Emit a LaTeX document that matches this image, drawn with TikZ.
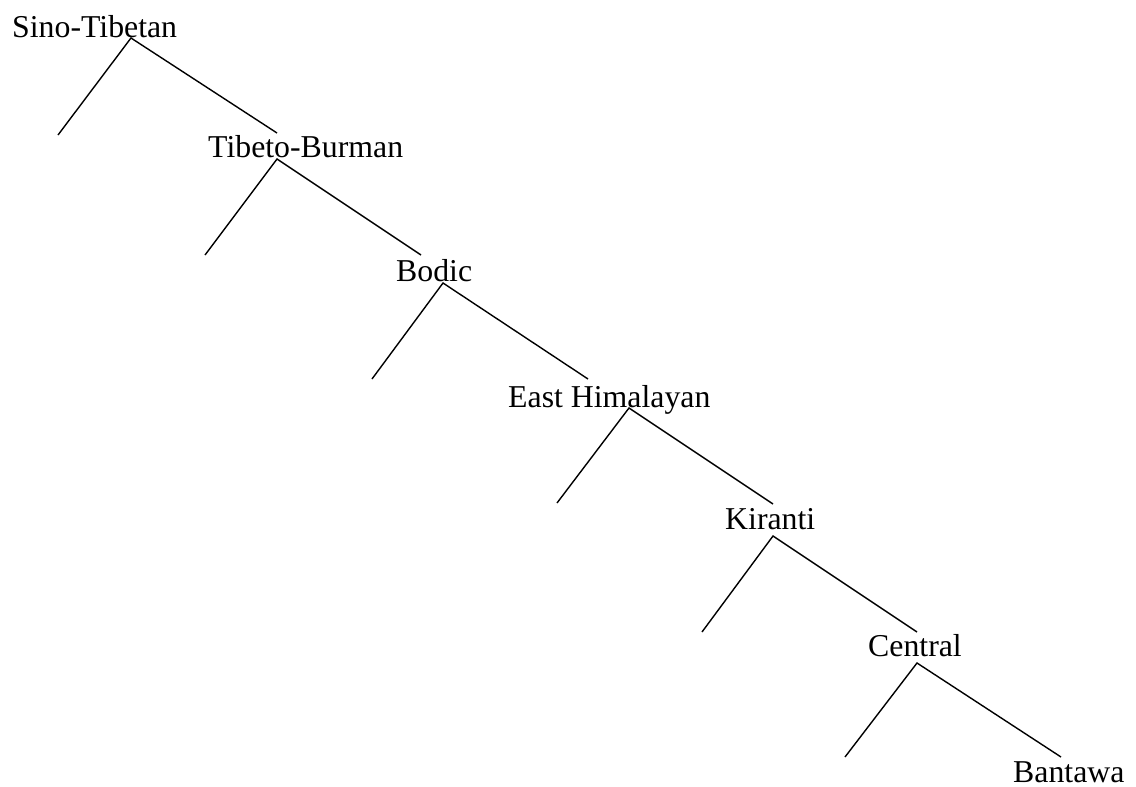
\documentclass[tikz,border=0pt]{standalone}
\usepackage{fontspec}
\setmainfont{Liberation Serif}
\begin{document}
\begin{tikzpicture}[x=1pt,y=-1pt,
  lbl/.style={anchor=base west,inner sep=0pt,font=\fontsize{31.8}{38}\selectfont},
  branch/.style={line width=1.4pt,line cap=butt}]
\useasboundingbox (0,0) rectangle (1136,787);
% labels
\node[lbl] (st) at (12,37) {Sino-Tibetan};
\node[lbl] (tb) at (208,157) {Tibeto-Burman};
\node[lbl] (bo) at (396,281) {Bodic};
\node[lbl] (eh) at (508,407) {East Himalayan};
\node[lbl] (ki) at (725,529) {Kiranti};
\node[lbl] (ce) at (868,656) {Central};
\node[lbl] (ba) at (1013,782) {Bantawa};
% branch points
\coordinate (a1) at (131,38);  \coordinate (l1) at (58,135);  \coordinate (r1) at (277,133);
\coordinate (a2) at (277,159); \coordinate (l2) at (205,255); \coordinate (r2) at (421,255);
\coordinate (a3) at (443,283); \coordinate (l3) at (372,379); \coordinate (r3) at (588,379);
\coordinate (a4) at (629,408); \coordinate (l4) at (557,503); \coordinate (r4) at (773,504);
\coordinate (a5) at (773,536); \coordinate (l5) at (702,632); \coordinate (r5) at (917,632);
\coordinate (a6) at (917,663); \coordinate (l6) at (845,757); \coordinate (r6) at (1061,757);
\foreach \i in {1,...,6}{
  \draw[branch] (l\i) -- (a\i) -- (r\i);
}
\end{tikzpicture}
\end{document}
